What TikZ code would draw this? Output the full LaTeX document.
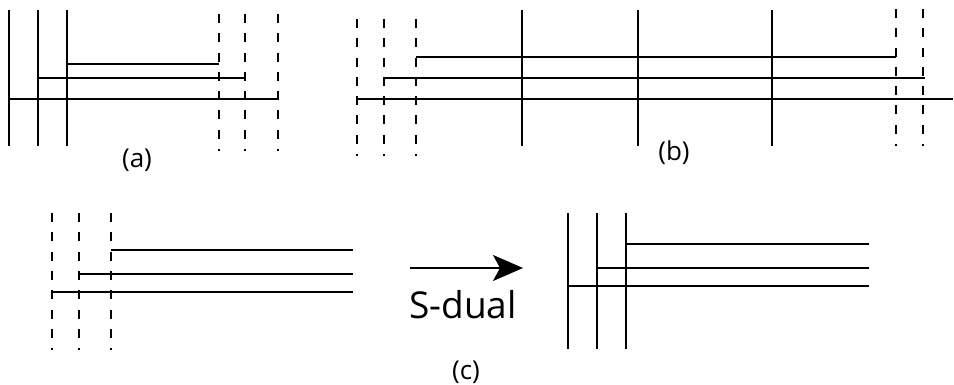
\documentclass[tikz,border=0pt]{standalone}
\usepackage{fontspec}
\setmainfont{Open Sans}
\usetikzlibrary{arrows.meta}
\begin{document}
\begin{tikzpicture}[x=1pt,y=-1pt,
  brane/.style={line width=2pt,black},
  dbrane/.style={line width=2pt,black,dash pattern=on 9pt off 10.3pt},
  lab/.style={font=\fontsize{26}{30}\selectfont,inner sep=0pt},
  big/.style={font=\fontsize{37}{42}\selectfont,inner sep=0pt}]
\useasboundingbox (0,0) rectangle (954,385);
% ---------- (a)
\draw[brane] (9,10) -- (9,146);
\draw[brane] (38,10) -- (38,146);
\draw[brane] (67,10) -- (67,146);
\draw[dbrane] (219,14) -- (219,151);
\draw[dbrane] (245,14) -- (245,151);
\draw[dbrane] (278,14) -- (278,151);
\draw[brane] (67,64.5) -- (219,64.5);
\draw[brane] (38,78) -- (245,78);
\draw[brane] (9,99) -- (278,99);
\node[lab] (la) at (137,160) {(a)};
% ---------- (b)
\draw[dbrane] (357,19) -- (357,156);
\draw[dbrane] (384,19) -- (384,156);
\draw[dbrane] (416,19) -- (416,156);
\draw[brane] (522,10) -- (522,146);
\draw[brane] (638,10) -- (638,146);
\draw[brane] (772,10) -- (772,146);
\draw[dbrane] (896,9) -- (896,146);
\draw[dbrane] (923,9) -- (923,146);
\draw[brane] (416,57) -- (896,57);
\draw[brane] (384,78) -- (925,78);
\draw[brane] (357,99) -- (953,99);
\node[lab] (lb) at (674,153) {(b)};
% ---------- (c) left
\draw[dbrane] (52,213) -- (52,350);
\draw[dbrane] (79,213) -- (79,350);
\draw[dbrane] (111,213) -- (111,350);
\draw[brane] (111,250) -- (353,250);
\draw[brane] (79,274) -- (353,274);
\draw[brane] (52,292) -- (353,292);
% arrow
\coordinate (as) at (410,268);
\coordinate (ae) at (523,268);
\draw[line width=2pt,-{Stealth[length=30pt,width=26pt,inset=7pt]}] (as) -- (ae);
\node[big,anchor=base] (sd) at (463,318) {S-dual};
\node[lab] (lc) at (466,372) {(c)};
% ---------- (c) right
\draw[brane] (568,213) -- (568,349);
\draw[brane] (597,213) -- (597,349);
\draw[brane] (626,213) -- (626,349);
\draw[brane] (626,244) -- (869,244);
\draw[brane] (597,268) -- (869,268);
\draw[brane] (568,286) -- (869,286);
\end{tikzpicture}
\end{document}
